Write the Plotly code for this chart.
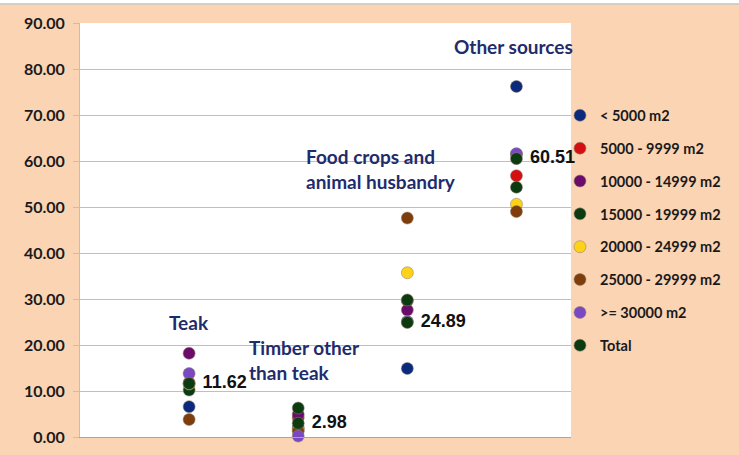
import plotly.graph_objects as go

# category positions on the x axis (1..4) and their labels
categories = ["Teak", "Timber other<br>than teak", "Food crops and<br>animal husbandry", "Other sources"]
cat_x = [1, 2, 3, 4]

# share of income by land size group (%)
lt_5000 = [6.6, 2.0, 14.9, 76.2]
s5000_9999 = [11.8, 4.2, 29.6, 56.8]
s10000_14999 = [18.2, 4.9, 27.6, 61.5]
s15000_19999 = [10.2, 6.3, 29.8, 54.3]
s20000_24999 = [11.5, 1.6, 35.7, 50.6]
s25000_29999 = [3.8, 1.3, 47.6, 49.0]
ge_30000 = [13.8, 0.2, 25.1, 61.6]
total = [11.62, 2.98, 24.89, 60.51]

series = [
    ("< 5000 m2", lt_5000, "#0B2A7E"),
    ("5000 - 9999 m2", s5000_9999, "#D40F12"),
    ("10000 - 14999 m2", s10000_14999, "#6B0C6B"),
    ("15000 - 19999 m2", s15000_19999, "#0C3B12"),
    ("20000 - 24999 m2", s20000_24999, "#FFD21A"),
    ("25000 - 29999 m2", s25000_29999, "#7E3D0B"),
    (">= 30000 m2", ge_30000, "#7B48C4"),
    ("Total", total, "#0C3B12"),
]

fig = go.Figure()
for name, vals, color in series:
    is_total = name == "Total"
    fig.add_trace(go.Scatter(
        x=cat_x, y=vals, name=name, legendgroup=name,
        mode="markers+text" if is_total else "markers",
        text=[f" {v:.2f}" for v in vals] if is_total else None,
        textposition="middle right",
        textfont=dict(family="Liberation Sans", size=18, color="#111111", weight="bold"),
        marker=dict(size=12, color=color,
                    line=dict(width=1, color="rgba(140,130,110,0.55)")),
        cliponaxis=False,
    ))

# category labels placed near each column
label_pos = [(1.0, 25.0), (2.06, 16.8), (2.76, 58.3), (3.97, 84.9)]
for name, (lx, ly) in zip(categories, label_pos):
    fig.add_annotation(x=lx, y=ly, text=name, showarrow=False,
                       font=dict(family="Lato", size=19, color="#1F2C6C", weight="bold"),
                       align="left")

# thin frame line at the top of the picture
fig.add_shape(type="rect", xref="paper", yref="paper", x0=-0.3, x1=1.4,
              y0=1.047, y1=1.06, fillcolor="white", line=dict(width=0), layer="below")
fig.add_shape(type="line", xref="paper", yref="paper", x0=-0.3, x1=1.4,
              y0=1.046, y1=1.046, line=dict(color="#C8C8C8", width=1.5))

fig.update_layout(
    width=739, height=455,
    margin=dict(l=80, r=168, t=23, b=18),
    paper_bgcolor="#FBD4B4",
    plot_bgcolor="white",
    showlegend=True,
    legend=dict(x=0.9776, y=0.8155, xanchor="left", yanchor="top",
                bgcolor="rgba(0,0,0,0)", tracegroupgap=11,
                font=dict(family="Lato", size=14.5, color="#1A1A1A", weight="bold"),
                itemwidth=30),
    xaxis=dict(range=[0, 4.5], showticklabels=False, showgrid=False,
               zeroline=False, showline=True, linecolor="#A6A6A6", ticks="",
               automargin=False),
    yaxis=dict(range=[0, 90], dtick=10, tickformat=".2f", showgrid=True,
               gridcolor="#BFBFBF", zeroline=False, showline=True,
               linecolor="#BFBFBF", ticks="outside", ticklen=6, tickcolor="#BFBFBF",
               ticklabelstandoff=5, automargin=False,
               tickfont=dict(family="Lato", size=16, color="#1A1A1A", weight="bold")),
)

# drop the default page margin so the figure sits at the window corner
fig.write_html("out.html", config={"displayModeBar": False},
               post_script="document.body.style.margin='0';")
